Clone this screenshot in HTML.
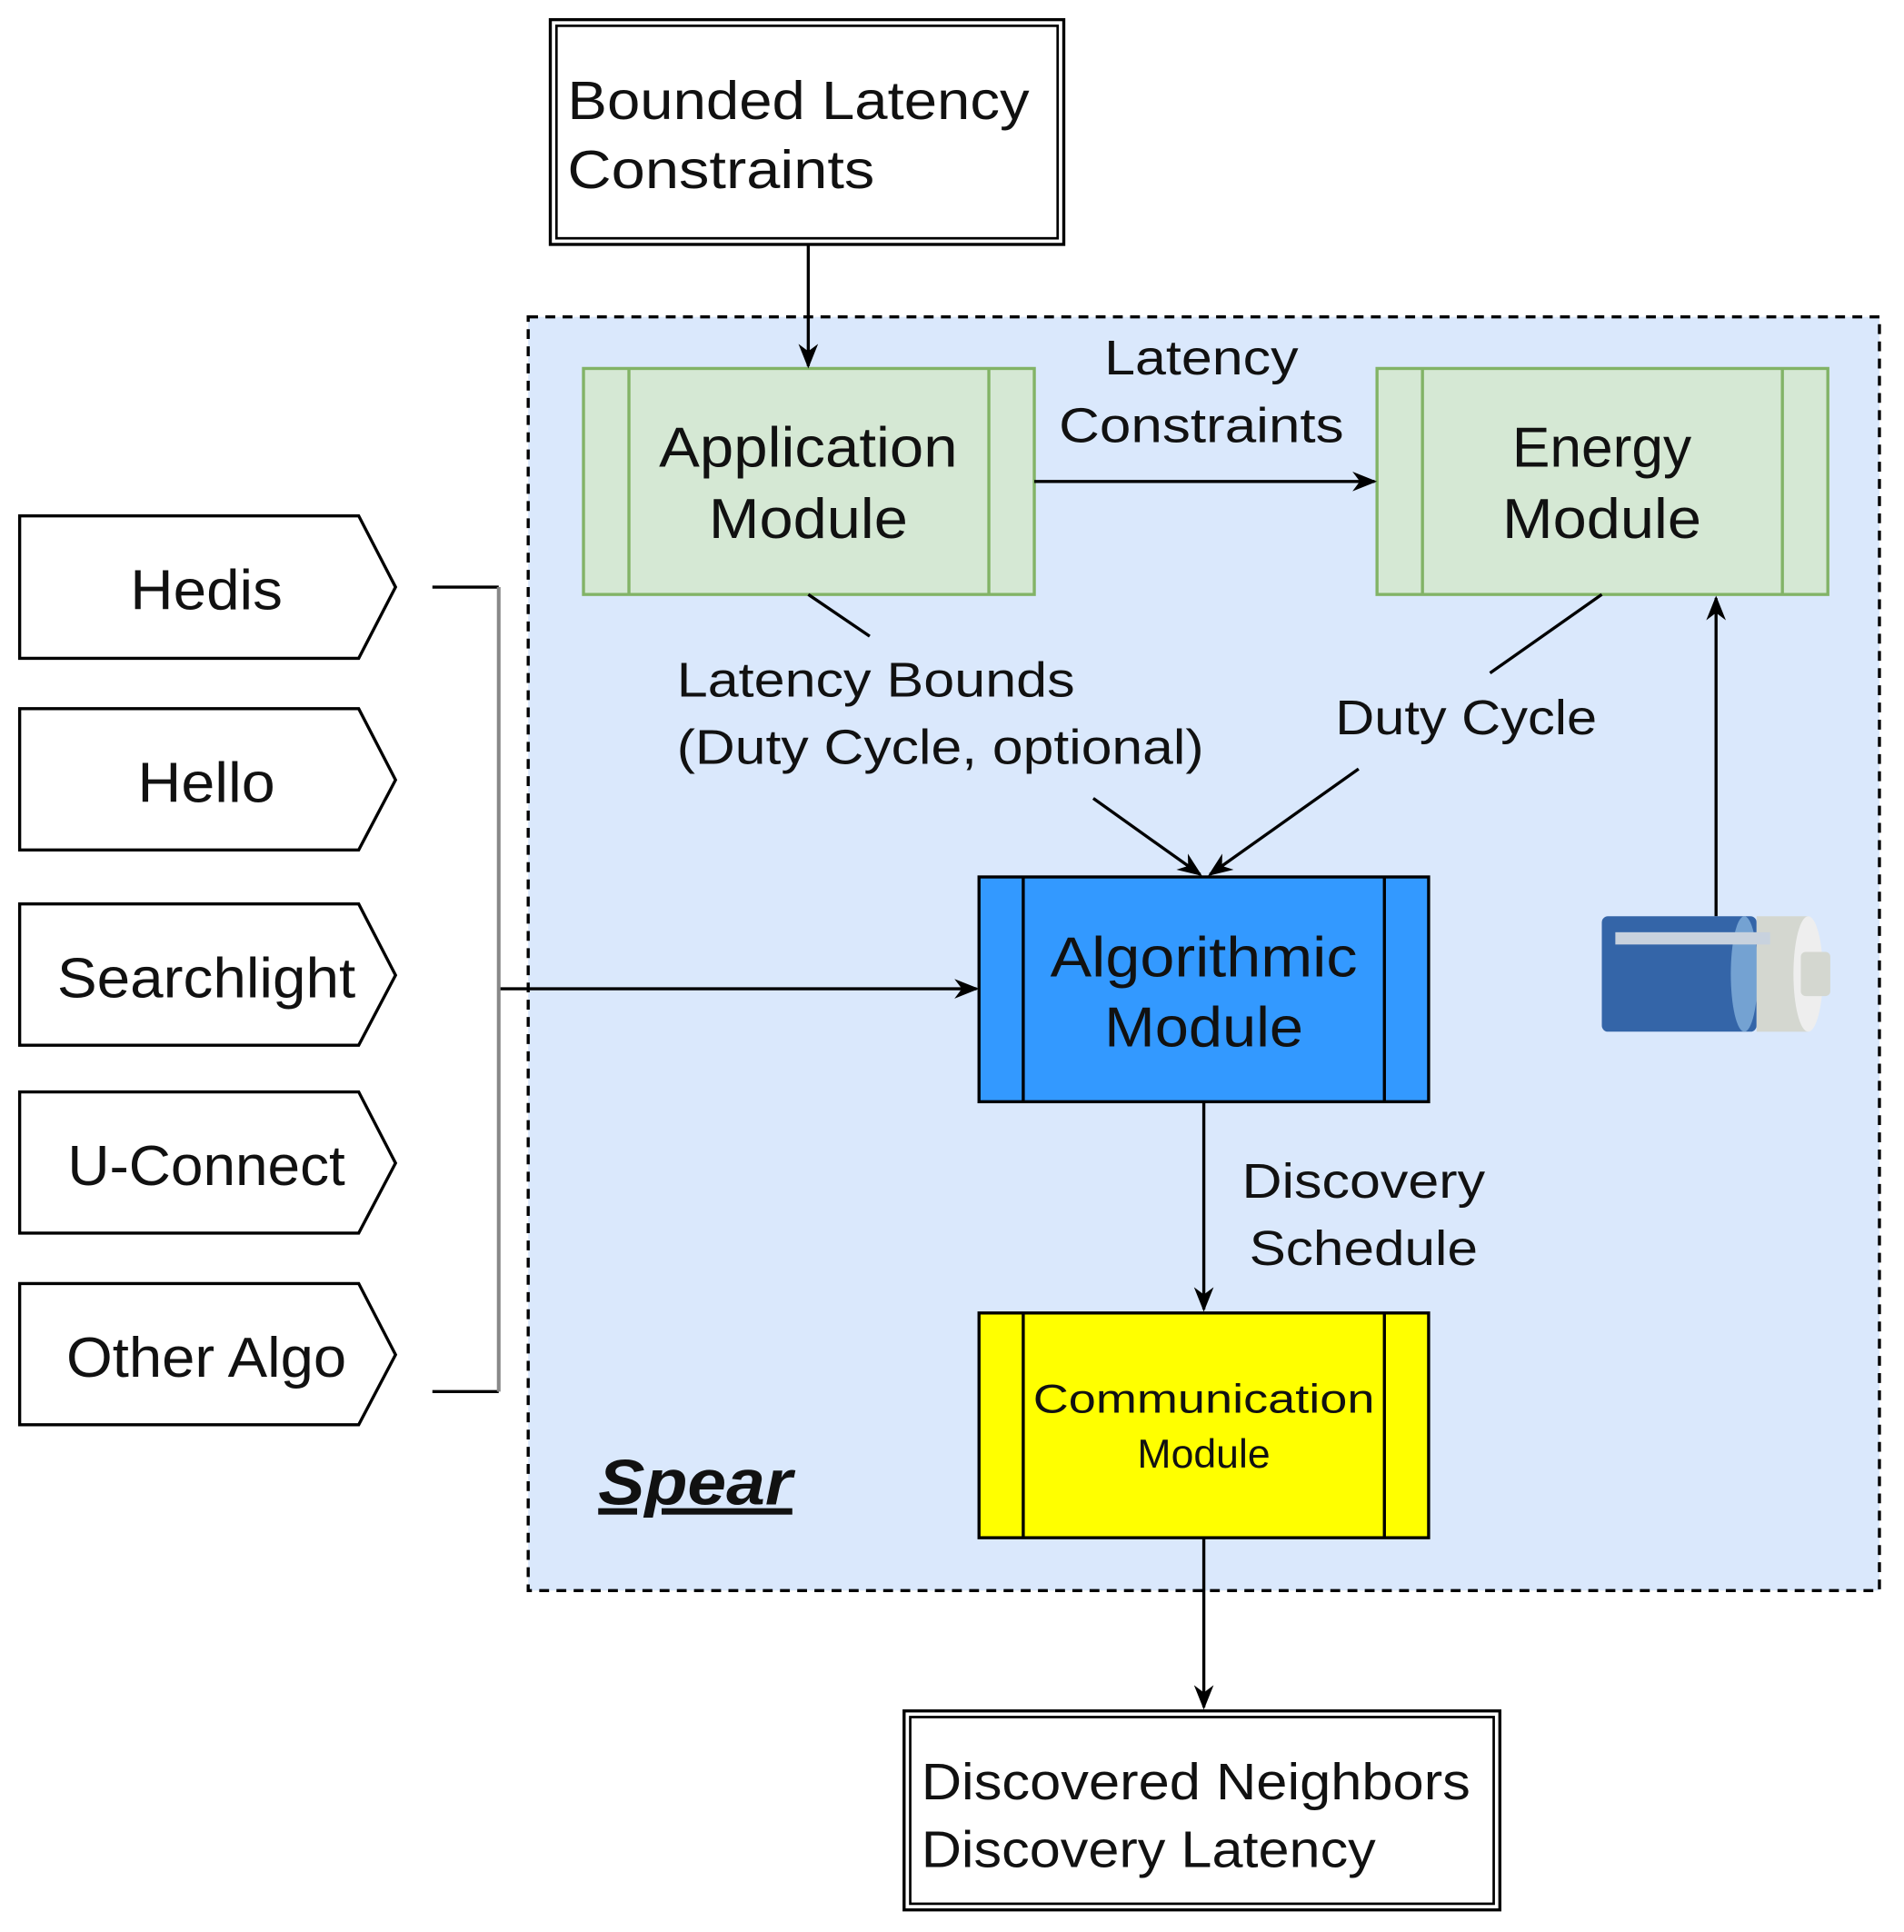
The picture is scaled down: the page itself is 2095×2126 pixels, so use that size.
<!DOCTYPE html>
<html><head><meta charset="utf-8"><style>html,body{margin:0;padding:0;background:#fff}svg{display:block}text{font-family:"Liberation Sans",sans-serif;fill:#111}</style></head>
<body>
<svg width="2095" height="2126" viewBox="0 0 1550 1573" preserveAspectRatio="none" xmlns="http://www.w3.org/2000/svg">
<defs>
<marker id="b" markerWidth="20" markerHeight="20" refX="18" refY="10" orient="auto" markerUnits="userSpaceOnUse"><path d="M0,2 L20,10 L0,18 L6,10 z" fill="#000"/></marker></defs>
<rect x="448" y="16" width="418" height="183" fill="#fff" stroke="#000" stroke-width="2.5"/>
<rect x="453" y="21" width="408" height="173" fill="none" stroke="#000" stroke-width="2"/>
<text x="462" y="97" font-size="44" textLength="376" lengthAdjust="spacingAndGlyphs">Bounded Latency</text>
<text x="462" y="153" font-size="44" textLength="250" lengthAdjust="spacingAndGlyphs">Constraints</text>
<rect x="430" y="258" width="1100" height="1037" fill="#dae8fc" stroke="#000" stroke-width="2.5" stroke-dasharray="8,6"/>
<text x="487" y="1225" font-size="52" font-weight="bold" font-style="italic" text-decoration="underline" textLength="158" lengthAdjust="spacingAndGlyphs">Spear</text>
<rect x="475" y="300" width="367" height="184" fill="#d5e8d4" stroke="#82b366" stroke-width="2.5"/>
<line x1="512" y1="300" x2="512" y2="484" stroke="#82b366" stroke-width="2.5"/>
<line x1="805" y1="300" x2="805" y2="484" stroke="#82b366" stroke-width="2.5"/>
<text x="658" y="380" font-size="46" text-anchor="middle" textLength="243" lengthAdjust="spacingAndGlyphs">Application</text>
<text x="658" y="438" font-size="46" text-anchor="middle" textLength="162" lengthAdjust="spacingAndGlyphs">Module</text>
<rect x="1121" y="300" width="367" height="184" fill="#d5e8d4" stroke="#82b366" stroke-width="2.5"/>
<line x1="1158" y1="300" x2="1158" y2="484" stroke="#82b366" stroke-width="2.5"/>
<line x1="1451" y1="300" x2="1451" y2="484" stroke="#82b366" stroke-width="2.5"/>
<text x="1304" y="380" font-size="46" text-anchor="middle" textLength="146" lengthAdjust="spacingAndGlyphs">Energy</text>
<text x="1304" y="438" font-size="46" text-anchor="middle" textLength="162" lengthAdjust="spacingAndGlyphs">Module</text>
<rect x="797" y="714" width="366" height="183" fill="#3399ff" stroke="#000" stroke-width="2.5"/>
<line x1="833" y1="714" x2="833" y2="897" stroke="#000" stroke-width="2.5"/>
<line x1="1127" y1="714" x2="1127" y2="897" stroke="#000" stroke-width="2.5"/>
<text x="980" y="795" font-size="46" text-anchor="middle" textLength="250" lengthAdjust="spacingAndGlyphs">Algorithmic</text>
<text x="980" y="852" font-size="46" text-anchor="middle" textLength="162" lengthAdjust="spacingAndGlyphs">Module</text>
<rect x="797" y="1069" width="366" height="183" fill="#ffff00" stroke="#000" stroke-width="2.5"/>
<line x1="833" y1="1069" x2="833" y2="1252" stroke="#000" stroke-width="2.5"/>
<line x1="1127" y1="1069" x2="1127" y2="1252" stroke="#000" stroke-width="2.5"/>
<text x="980" y="1150" font-size="33" text-anchor="middle" textLength="278" lengthAdjust="spacingAndGlyphs">Communication</text>
<text x="980" y="1195" font-size="33" text-anchor="middle">Module</text>
<rect x="736" y="1393" width="485" height="162" fill="#fff" stroke="#000" stroke-width="2.5"/>
<rect x="741" y="1398" width="475" height="152" fill="none" stroke="#000" stroke-width="2"/>
<text x="750" y="1465" font-size="42" textLength="447" lengthAdjust="spacingAndGlyphs">Discovered Neighbors</text>
<text x="750" y="1520" font-size="42" textLength="370" lengthAdjust="spacingAndGlyphs">Discovery Latency</text>
<g stroke="#000" stroke-width="2.5" fill="none">
<line x1="658" y1="199" x2="658" y2="298" marker-end="url(#b)"/>
<line x1="842" y1="392" x2="1119" y2="392" marker-end="url(#b)"/>
<line x1="658" y1="484" x2="708" y2="518"/>
<line x1="890" y1="650" x2="977" y2="712" marker-end="url(#b)"/>
<line x1="1304" y1="484" x2="1213" y2="548"/>
<line x1="1106" y1="626" x2="985" y2="712" marker-end="url(#b)"/>
<line x1="1397" y1="746" x2="1397" y2="487" marker-end="url(#b)"/>
<line x1="980" y1="897" x2="980" y2="1066" marker-end="url(#b)"/>
<line x1="980" y1="1252" x2="980" y2="1390" marker-end="url(#b)"/>
<line x1="406" y1="805" x2="795" y2="805" marker-end="url(#b)"/>
<line x1="352" y1="478" x2="406" y2="478"/>
<line x1="352" y1="1133" x2="406" y2="1133"/>
</g>
<line x1="406" y1="478" x2="406" y2="1133" stroke="#888" stroke-width="3"/>
<text x="978" y="305" font-size="40" text-anchor="middle" textLength="158" lengthAdjust="spacingAndGlyphs">Latency</text>
<text x="978" y="360" font-size="40" text-anchor="middle" textLength="232" lengthAdjust="spacingAndGlyphs">Constraints</text>
<text x="551" y="567" font-size="40" textLength="324" lengthAdjust="spacingAndGlyphs">Latency Bounds</text>
<text x="551" y="622" font-size="40" textLength="429" lengthAdjust="spacingAndGlyphs">(Duty Cycle, optional)</text>
<text x="1087" y="598" font-size="40" textLength="213" lengthAdjust="spacingAndGlyphs">Duty Cycle</text>
<text x="1110" y="975" font-size="40" text-anchor="middle" textLength="198" lengthAdjust="spacingAndGlyphs">Discovery</text>
<text x="1110" y="1030" font-size="40" text-anchor="middle" textLength="186" lengthAdjust="spacingAndGlyphs">Schedule</text>
<rect x="1304" y="746" width="126" height="94" rx="5" fill="#3465a8"/>
<ellipse cx="1420" cy="793" rx="11" ry="47" fill="#74a2d2"/>
<rect x="1430" y="746" width="42" height="94" fill="#d4d7d0"/>
<ellipse cx="1472" cy="793" rx="12" ry="47" fill="#eeeeee"/>
<rect x="1466" y="775" width="24" height="36" rx="4" fill="#d4d7d0"/>
<rect x="1315" y="759" width="126" height="10" fill="#c8d2de"/>
<g stroke="#000" stroke-width="2.5" fill="#fff">
<path d="M16,420 H292 L322,478 L292,536 H16 Z"/>
<path d="M16,577 H292 L322,635 L292,692 H16 Z"/>
<path d="M16,736 H292 L322,794 L292,851 H16 Z"/>
<path d="M16,889 H292 L322,947 L292,1004 H16 Z"/>
<path d="M16,1045 H292 L322,1103 L292,1160 H16 Z"/>
</g>
<text x="168" y="496" font-size="46" text-anchor="middle" textLength="124" lengthAdjust="spacingAndGlyphs">Hedis</text>
<text x="168" y="653" font-size="46" text-anchor="middle" textLength="112" lengthAdjust="spacingAndGlyphs">Hello</text>
<text x="168" y="812" font-size="46" text-anchor="middle" textLength="243" lengthAdjust="spacingAndGlyphs">Searchlight</text>
<text x="168" y="965" font-size="46" text-anchor="middle" textLength="226" lengthAdjust="spacingAndGlyphs">U-Connect</text>
<text x="168" y="1121" font-size="46" text-anchor="middle" textLength="228" lengthAdjust="spacingAndGlyphs">Other Algo</text>
</svg>
</body></html>
